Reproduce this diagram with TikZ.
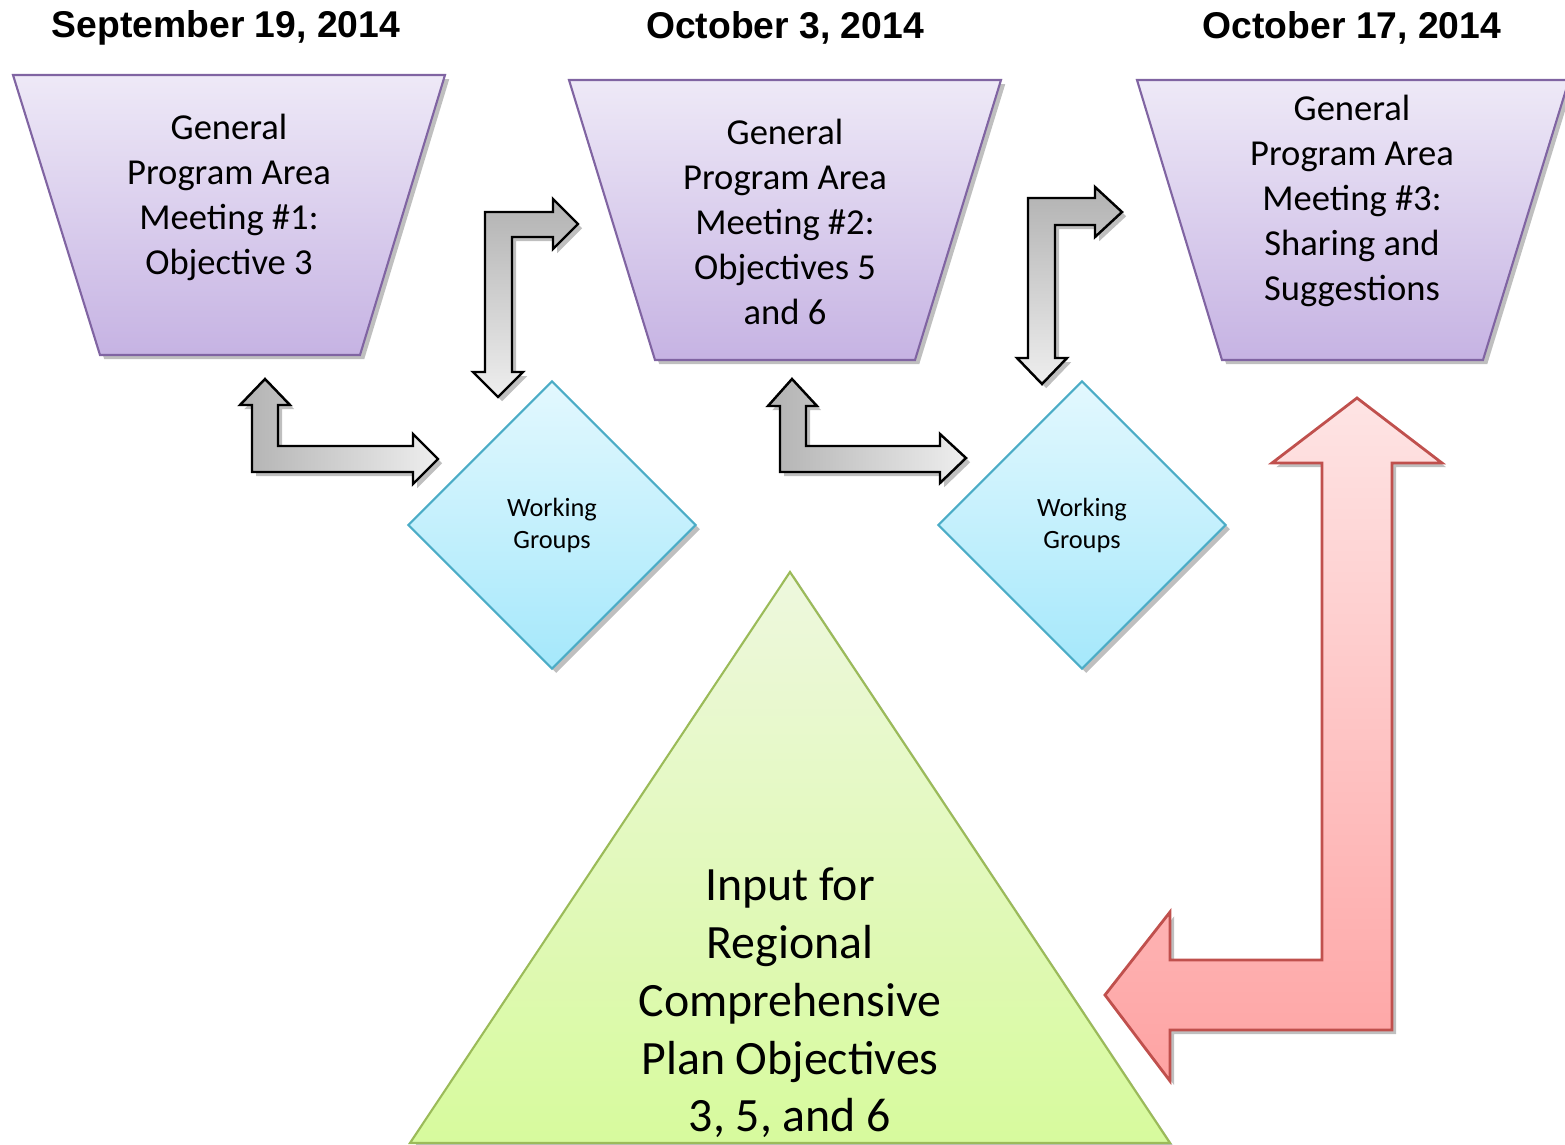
\documentclass[tikz,border=0pt]{standalone}
\usepackage{fontspec}
\setmainfont{Carlito}
\newfontfamily\datefont{Liberation Sans}
\usepackage{xcolor}
\usepackage{tikz}
\usetikzlibrary{shapes.geometric, shadows}
\definecolor{meetline}{HTML}{8064A2}
\definecolor{meettop}{HTML}{EEE9F7}
\definecolor{meetbot}{HTML}{C6B3E3}
\definecolor{wgline}{HTML}{4BACC6}
\definecolor{wgtop}{HTML}{E3F8FE}
\definecolor{wgbot}{HTML}{A5E8FB}
\definecolor{triline}{HTML}{9BBB59}
\definecolor{tritop}{HTML}{EEF8DE}
\definecolor{tribot}{HTML}{D7FA9D}
\definecolor{redline}{HTML}{C0504D}
\definecolor{redtop}{HTML}{FEE4E4}
\definecolor{redbot}{HTML}{FEA3A3}
\definecolor{graydark}{HTML}{B2B2B2}
\definecolor{graylight}{HTML}{EEEEEE}
\tikzstyle{softshadow} = [drop shadow={shadow xshift=1.2pt, shadow yshift=-1.2pt, opacity=0.25, fill=black}]
\tikzstyle{meeting} = [draw=meetline, line width=0.6pt, top color=meettop, bottom color=meetbot, softshadow]
\tikzstyle{meettext} = [align=center, font=\fontsize{10.4}{12.8}\selectfont]
\tikzstyle{working} = [diamond, minimum width=2.88cm, minimum height=2.88cm, inner sep=0pt, draw=wgline, line width=0.6pt, top color=wgtop, bottom color=wgbot, align=center, font=\fontsize{7.5}{9.1}\selectfont, softshadow]
\tikzstyle{date} = [font=\fontsize{10.6}{12}\datefont\bfseries]
\tikzstyle{grayarrow} = [draw=black, line width=0.7pt, line join=miter, softshadow]
\tikzstyle{redarrow} = [draw=redline, line width=0.8pt, top color=redtop, bottom color=redbot, softshadow]

\begin{document}
\begin{tikzpicture}[x=0.01cm, y=-0.01cm]
    \useasboundingbox (0,0) rectangle (1565,1145);

    % Dates
    \node[date] (d1) at (226,28) {September 19, 2014};
    \node[date] (d2) at (785,28) {October 3, 2014};
    \node[date] (d3) at (1352,28) {October 17, 2014};

    % Meetings
    \draw[meeting] (13,75) -- (445,75) -- (360,355) -- (100,355) -- cycle;
    \node[meettext] (m1) at (229,197) {General\\Program Area\\Meeting \#1:\\Objective 3};
    \draw[meeting] (569,80) -- (1001,80) -- (915,360) -- (655,360) -- cycle;
    \node[meettext] (m2) at (785,222) {General\\Program Area\\Meeting \#2:\\Objectives 5\\and 6};
    \draw[meeting] (1137,80) -- (1569,80) -- (1483,360) -- (1222,360) -- cycle;
    \node[meettext] (m3) at (1352,201) {General\\Program Area\\Meeting \#3:\\Sharing and\\Suggestions};

    % Working groups
    \node[working] (wg1) at (552,525) {Working\\Groups};
    \node[working] (wg2) at (1082,525) {Working\\Groups};

    % Input triangle
    \draw[draw=triline, line width=0.6pt, top color=tritop, bottom color=tribot, softshadow]
        (790,572) -- (1170,1143) -- (410,1143) -- cycle;
    \node[align=center, font=\fontsize{13.6}{16.4}\selectfont] (input) at (790,1003)
        {Input for\\Regional\\Comprehensive\\Plan Objectives\\3, 5, and 6};

    % Meeting 1 <-> working groups 1
    \draw[grayarrow, left color=graydark, right color=graylight]
        (265,379) -- (290,405) -- (278,405) -- (278,446) -- (413,446) -- (413,434)
        -- (438,459) -- (413,484) -- (413,472) -- (252,472) -- (252,405) -- (240,405) -- cycle;
    \draw[grayarrow, top color=graydark, bottom color=graylight]
        (498,397) -- (473,372) -- (485,372) -- (485,212) -- (553,212) -- (553,199)
        -- (578,224) -- (553,249) -- (553,237) -- (512,237) -- (512,372) -- (523,372) -- cycle;

    % Meeting 2 <-> working groups 2
    \draw[grayarrow, left color=graydark, right color=graylight]
        (792,379) -- (817,406) -- (806,406) -- (806,446) -- (940,446) -- (940,434)
        -- (966,458) -- (940,483) -- (940,472) -- (780,472) -- (780,406) -- (768,406) -- cycle;
    \draw[grayarrow, top color=graydark, bottom color=graylight]
        (1042,384) -- (1017,358) -- (1028,358) -- (1028,198) -- (1095,198) -- (1095,187)
        -- (1122,212) -- (1095,237) -- (1095,225) -- (1055,225) -- (1055,358) -- (1067,358) -- cycle;

    % Meeting 3 <-> input
    \draw[redarrow]
        (1357,398) -- (1442,463) -- (1392,463) -- (1392,1030) -- (1170,1030) -- (1170,1081)
        -- (1105,995) -- (1170,912) -- (1170,960) -- (1322,960) -- (1322,463) -- (1272,463) -- cycle;
\end{tikzpicture}
\end{document}
